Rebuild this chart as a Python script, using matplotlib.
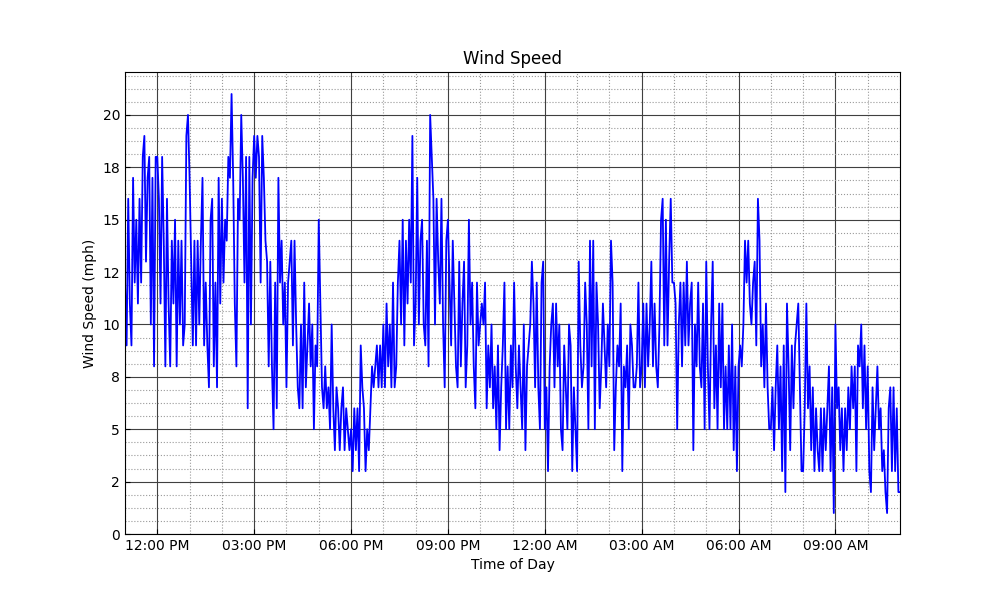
import numpy as np
import pandas as pd
import matplotlib
matplotlib.use("Agg")
import matplotlib.pyplot as plt
import matplotlib.dates as mdates
from matplotlib.ticker import MultipleLocator, AutoMinorLocator, FormatStrFormatter

# wind speed (mph), one reading every 3 minutes from 11:00 AM to 11:00 AM next day,
# read off the reference hour by hour (20 readings per hour)
h00 = [12, 9, 16, 11, 9, 17, 12, 15, 11, 16, 12, 18, 19, 13, 17, 18, 10, 17, 8, 18]
h01 = [18, 16, 11, 18, 14, 8, 16, 11, 8, 14, 11, 15, 8, 14, 10, 14, 9, 10, 19, 20]
h02 = [17, 13, 9, 14, 9, 14, 10, 14, 17, 9, 12, 9, 7, 15, 16, 8, 12, 7, 17, 11]
h03 = [16, 12, 15, 14, 18, 17, 21, 17, 11, 8, 16, 15, 20, 17, 12, 18, 6, 18, 10, 17]
h04 = [19, 17, 19, 18, 12, 19, 17, 14, 13, 8, 13, 8, 5, 12, 6, 17, 12, 14, 10, 12]
h05 = [7, 12, 13, 14, 9, 14, 10, 7, 6, 10, 6, 12, 7, 9, 11, 8, 10, 5, 9, 8]
h06 = [15, 11, 7, 6, 8, 6, 7, 5, 10, 6, 4, 7, 6, 4, 6, 7, 4, 6, 5, 4]
h07 = [5, 3, 6, 4, 6, 3, 9, 7, 6, 3, 5, 4, 6, 8, 7, 8, 9, 7, 9, 7]
h08 = [10, 7, 11, 8, 10, 7, 12, 7, 8, 12, 14, 10, 15, 9, 14, 11, 15, 12, 19, 9]
h09 = [11, 17, 10, 14, 15, 10, 9, 14, 8, 20, 18, 16, 10, 16, 13, 11, 16, 10, 7, 14]
h10 = [15, 12, 9, 14, 11, 8, 7, 13, 8, 11, 13, 7, 9, 15, 10, 12, 8, 6, 12, 9]
h11 = [10, 11, 10, 12, 6, 9, 7, 10, 6, 8, 5, 9, 4, 7, 9, 12, 5, 8, 5, 9]
h12 = [7, 12, 8, 6, 9, 7, 5, 10, 4, 8, 9, 10, 13, 11, 7, 12, 7, 5, 12, 13]
h13 = [5, 7, 3, 8, 10, 11, 7, 11, 8, 10, 5, 4, 9, 7, 5, 10, 9, 3, 7, 5]
h14 = [3, 13, 9, 7, 8, 12, 10, 5, 14, 8, 14, 5, 12, 10, 6, 8, 11, 9, 7, 10]
h15 = [8, 14, 12, 4, 7, 9, 8, 11, 3, 8, 7, 9, 5, 10, 9, 7, 7, 8, 12, 7]
h16 = [8, 11, 7, 11, 8, 10, 13, 8, 11, 8, 7, 10, 15, 16, 9, 15, 9, 13, 16, 12]
h17 = [12, 11, 5, 10, 12, 8, 12, 9, 13, 9, 11, 12, 4, 10, 8, 12, 8, 7, 11, 5]
h18 = [13, 8, 5, 10, 13, 6, 9, 5, 11, 7, 11, 5, 8, 5, 9, 5, 10, 4, 8, 3]
h19 = [8, 9, 8, 10, 14, 12, 14, 11, 10, 12, 13, 9, 16, 14, 8, 10, 7, 11, 7, 5]
h20 = [5, 7, 4, 7, 9, 5, 8, 3, 9, 2, 11, 8, 4, 9, 6, 9, 10, 11, 7, 3]
h21 = [3, 6, 11, 6, 8, 4, 7, 3, 6, 4, 3, 6, 3, 6, 4, 6, 8, 3, 7, 1]
h22 = [10, 6, 7, 4, 6, 3, 6, 4, 7, 5, 8, 6, 8, 3, 9, 8, 10, 6, 9, 5]
h23 = [8, 3, 2, 7, 4, 6, 8, 5, 6, 3, 4, 2, 1, 6, 7, 3, 7, 3, 6, 2, 2]

speed = (h00 + h01 + h02 + h03 + h04 + h05 + h06 + h07 + h08 + h09 + h10 + h11
         + h12 + h13 + h14 + h15 + h16 + h17 + h18 + h19 + h20 + h21 + h22 + h23)
times = pd.date_range("2016-06-01 11:00", periods=len(speed), freq="3min")


def main():
    fig, ax = plt.subplots(figsize=(10, 6), dpi=100)
    ax.plot(times.to_pydatetime(), speed, color="blue", lw=1.3)

    ax.set_xlim(times[0].to_pydatetime(), times[-1].to_pydatetime())
    ax.set_ylim(0, max(speed) * 1.05)

    ax.xaxis.set_major_locator(mdates.HourLocator(byhour=range(0, 24, 3)))
    ax.xaxis.set_minor_locator(mdates.HourLocator())
    ax.xaxis.set_major_formatter(mdates.DateFormatter("%I:%M %p"))
    ax.yaxis.set_major_locator(MultipleLocator(2.5))
    ax.yaxis.set_minor_locator(AutoMinorLocator(4))
    ax.yaxis.set_major_formatter(FormatStrFormatter("%.0f"))
    ax.tick_params(which="major", direction="in")
    ax.tick_params(which="minor", length=0)

    ax.grid(which="major", color="0.25", ls="-", lw=0.8)
    ax.grid(which="minor", color="0.6", ls=":", lw=0.8)
    ax.set_axisbelow(True)

    ax.set_title("Wind Speed")
    ax.set_xlabel("Time of Day")
    ax.set_ylabel("Wind Speed (mph)")
    fig.savefig("out.png", dpi=100)


if __name__ == "__main__":
    main()
